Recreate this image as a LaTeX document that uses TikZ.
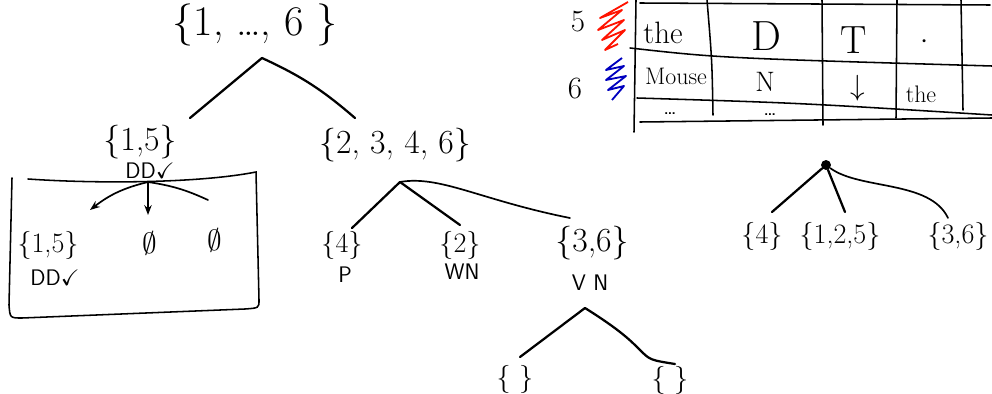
\documentclass[tikz,border=0pt]{standalone}
\usepackage{amssymb}
\usetikzlibrary{positioning, arrows.meta}

\tikzset{
  bigset/.style={inner sep=1pt, font=\fontsize{30}{32}\selectfont},
  set/.style={inner sep=1pt, font=\fontsize{24}{26}\selectfont},
  smallset/.style={inner sep=1pt, font=\fontsize{20}{22}\selectfont},
  tag/.style={inner sep=1pt, font=\fontsize{16}{18}\selectfont\sffamily},
  cell/.style={inner sep=1pt, font=\fontsize{22}{24}\selectfont},
  branch/.style={line width=1.6pt, line cap=round},
  pointer/.style={line width=1.2pt, line cap=round, -{Stealth[length=7pt]}},
  grid/.style={line width=1.1pt, line cap=round},
  scribble/.style={line width=1.3pt, line join=round},
}

\begin{document}
\begin{tikzpicture}[x=0.025cm, y=-0.025cm]
    \clip (0,0) rectangle (992,394);

    % left tree: root and first split
    \node[bigset] (root) at (255,25) {\{1, \dots, 6\ \}};
    \coordinate (rootb) at (262,58);
    \coordinate (rootl) at (190,118);
    \coordinate (rootr) at (355,118);
    \draw[branch] (rootb) -- (rootl);
    \draw[branch] (rootb) to[bend left=8] (rootr);

    \node[set] (s15) at (140,142) {\{1,5\}};
    \node[tag] (s15t) at (150,171) {DD\checkmark};
    \node[set] (s2346) at (395,145) {\{2, 3, 4, 6\}};

    % box around the {1,5} case
    \draw[grid] (28,179) .. controls (100,184) and (200,183) .. (256,172)
        -- (259,300) .. controls (259,308) .. (245,309)
        -- (22,318) .. controls (10,318) .. (9,305) -- (12,178);
    \coordinate (boxb) at (148,182);
    \coordinate (boxl) at (90,210);
    \coordinate (boxm) at (148,215);
    \coordinate (boxr) at (208,200);
    \draw[pointer] (boxb) to[bend right=12] (boxl);
    \draw[pointer] (boxb) -- (boxm);
    \draw[branch, line width=1.2pt] (boxb) to[bend left=8] (boxr);
    \node[smallset] (b15) at (48,245) {\{1,5\}};
    \node[tag] (b15t) at (55,278) {DD\checkmark};
    \node[smallset] (empty1) at (150,243) {$\emptyset$};
    \node[smallset] (empty2) at (215,240) {$\emptyset$};

    % right subtree of the root
    \coordinate (s2346b) at (400,182);
    \coordinate (s2346l) at (352,228);
    \coordinate (s2346m) at (460,225);
    \coordinate (s2346r) at (570,218);
    \draw[branch] (s2346b) -- (s2346l);
    \draw[branch] (s2346b) -- (s2346m);
    \draw[branch, line width=1.2pt] (s2346b) .. controls (440,175) and (480,200) .. (s2346r);

    \node[smallset] (s4) at (342,245) {\{4\}};
    \node[tag] (s4t) at (345,275) {P};
    \node[smallset] (s2) at (460,245) {\{2\}};
    \node[tag] (s2t) at (462,272) {WN};
    \node[set] (s36) at (592,243) {\{3,6\}};
    \node[tag] (s36t) at (590,283) {V\,\,N};

    \coordinate (s36b) at (585,308);
    \coordinate (s36l) at (520,357);
    \coordinate (s36r) at (675,364);
    \draw[branch] (s36b) -- (s36l);
    \draw[branch] (s36b) .. controls (620,330) and (630,340) .. (640,350)
        .. controls (650,360) .. (s36r);
    \node[smallset] (e1) at (515,379) {\{\ \}};
    \node[smallset] (e2) at (670,380) {\{\ \}};

    % table (top right)
    \draw[grid] (636,0) -- (634,132);
    \draw[grid] (707,0) .. controls (712,60) .. (713,115);
    \draw[grid] (822,0) -- (823,125);
    \draw[grid] (897,0) -- (896,118);
    \draw[grid] (961,0) -- (963,110);
    \draw[grid] (640,3) -- (990,5);
    \draw[grid] (630,48) .. controls (720,58) .. (992,66);
    \draw[grid] (637,98) .. controls (800,103) .. (992,115);
    \draw[grid] (640,122) -- (992,118);

    \node[cell] (the) at (663,33) {the};
    \node[cell, font=\fontsize{30}{32}\selectfont] (d) at (766,36) {D};
    \node[cell, font=\fontsize{28}{30}\selectfont] (t) at (854,40) {T};
    \node[cell] (dot) at (925,42) {$\cdot$};
    \node[cell, font=\fontsize{17}{19}\selectfont] (mouse) at (676,76) {Mouse};
    \node[cell, font=\fontsize{20}{22}\selectfont] (n) at (765,82) {N};
    \node[cell] (down) at (858,88) {$\downarrow$};
    \node[cell, font=\fontsize{17}{19}\selectfont] (the2) at (921,94) {the};
    \node[tag, inner sep=0pt] (dots1) at (670,114) {\dots};
    \node[tag, inner sep=0pt] (dots2) at (770,115) {\dots};

    % row marks with coloured scribbles
    \node[cell] (r5) at (578,22) {5};
    \node[cell] (r6) at (575,89) {6};
    \draw[scribble, red!85!orange] (628,2) -- (600,18) -- (622,10) -- (598,30) -- (624,20)
        -- (602,40) -- (625,30) -- (605,50) -- (618,44);
    \draw[scribble, blue!75!black] (622,58) -- (606,70) -- (624,66) -- (606,80) -- (626,76)
        -- (608,90) -- (624,86) -- (612,100);

    % second tree (right)
    \node[circle, fill, inner sep=2.5pt] (top) at (826,165) {};
    \coordinate (topl) at (772,212);
    \coordinate (topm) at (845,212);
    \coordinate (topr) at (948,218);
    \draw[branch] (top) -- (topl);
    \draw[branch] (top) -- (topm);
    \draw[branch, line width=1.2pt] (top) .. controls (860,190) and (930,180) .. (topr);
    \node[smallset] (t4) at (762,236) {\{4\}};
    \node[smallset] (t125) at (840,236) {\{1,2,5\}};
    \node[smallset] (t36) at (958,236) {\{3,6\}};
\end{tikzpicture}
\end{document}
